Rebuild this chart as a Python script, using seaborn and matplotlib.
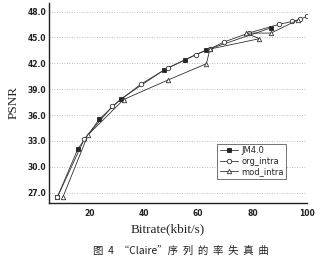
import matplotlib
matplotlib.use("Agg")
import matplotlib.pyplot as plt
import seaborn as sns
import pandas as pd
from matplotlib.ticker import MultipleLocator, FormatStrFormatter

# Data
jm_x = [8.2, 15.8, 23.6, 31.5, 47.3, 55.2, 63.0, 86.7]
jm_y = [26.45, 32.1, 35.5, 37.85, 41.2, 42.4, 43.55, 46.1]

org_x = [8.2, 18.2, 28.4, 39.0, 48.8, 59.0, 64.5, 69.3, 78.5, 89.5, 94.5, 97.5, 100.0]
org_y = [26.45, 33.25, 37.0, 39.6, 41.45, 43.0, 43.7, 44.45, 45.5, 46.5, 46.85, 47.1, 47.45]

mod_x = [10.3, 19.5, 32.6, 48.8, 63.0, 64.3, 82.5, 77.5, 86.7, 96.5]
mod_y = [26.5, 33.7, 37.8, 40.05, 41.95, 43.65, 44.85, 45.5, 45.5, 47.0]

series_names = ["JM4.0", "org_intra", "mod_intra"]
x_ticks = [20, 40, 60, 80, 100]
y_ticks = [27.0, 30.0, 33.0, 36.0, 39.0, 42.0, 45.0, 48.0]

sns.set_style("white")
plt.rcParams['font.family'] = ['DejaVu Sans']

fig = plt.figure(figsize=(3.25, 2.63), dpi=100)
ax = fig.add_axes([0.151, 0.228, 0.794, 0.761])

styles = [
    dict(marker="s", markerfacecolor="#222222", markeredgecolor="#222222"),
    dict(marker="o", markerfacecolor="white", markeredgecolor="#333333"),
    dict(marker="^", markerfacecolor="white", markeredgecolor="#333333"),
]
data = [(jm_x, jm_y), (org_x, org_y), (mod_x, mod_y)]
for name, (xs, ys), st in zip(series_names, data, styles):
    df = pd.DataFrame({"x": xs, "y": ys})
    sns.lineplot(data=df, x="x", y="y", sort=False, ax=ax, color="#333333",
                 linewidth=0.6, markersize=3.2, markeredgewidth=0.6,
                 label=name, **st)

ax.set_xlim(5.2, 100)
ax.set_ylim(25.8, 49.0)
ax.set_xticks(x_ticks)
ax.set_yticks(y_ticks)
ax.yaxis.set_major_formatter(FormatStrFormatter("%.1f"))
ax.xaxis.set_minor_locator(MultipleLocator(10))
ax.yaxis.set_minor_locator(MultipleLocator(1.5))
ax.tick_params(axis="both", which="major", direction="in", length=3, width=0.6,
               labelsize=5.5, pad=2)
ax.tick_params(axis="both", which="minor", direction="in", length=1.5, width=0.5)
ax.tick_params(axis="x", pad=4)
for lab in ax.get_xticklabels() + ax.get_yticklabels():
    lab.set_fontweight("bold")
    lab.set_color("#222222")

ax.yaxis.grid(True, linestyle=(0, (1, 2)), color="#aaaaaa", linewidth=0.6)
ax.xaxis.grid(False)
for side in ["top", "right"]:
    ax.spines[side].set_visible(False)
for side in ["left", "bottom"]:
    ax.spines[side].set_color("#222222")
    ax.spines[side].set_linewidth(1.0)

ax.set_xlabel("Bitrate(kbit/s)", family="Liberation Serif", fontsize=9.5)
ax.xaxis.set_label_coords(0.46, -0.1, transform=ax.transAxes)
ax.set_ylabel("PSNR", family="Liberation Serif", fontsize=9.5)
ax.yaxis.set_label_coords(-0.115, 0.5, transform=ax.transAxes)

leg = ax.legend(loc="lower right", bbox_to_anchor=(0.935, 0.1), fontsize=6,
                frameon=True, fancybox=False, handlelength=2.2,
                borderpad=0.3, labelspacing=0.2, handletextpad=0.4)
leg.get_frame().set_edgecolor("#333333")
leg.get_frame().set_linewidth(0.6)

fig.text(0.557, 0.045, "图  4  “Claire”序  列  的  率  失  真  曲",
         family=["Noto Sans CJK SC", "DejaVu Sans"], fontsize=7.5,
         ha="center", va="center", color="#222222")

fig.savefig("out.png", dpi=100)
